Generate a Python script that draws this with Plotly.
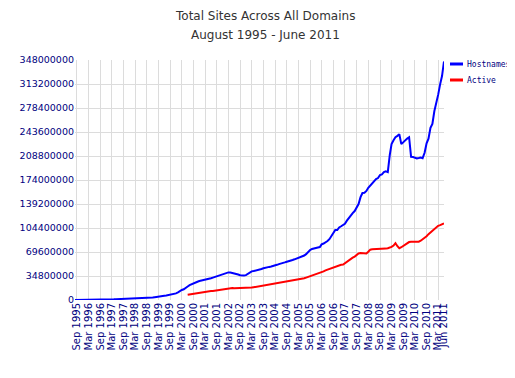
import numpy as np
import pandas as pd
import plotly.graph_objects as go

# Hostnames, monthly, Aug 1995 - Jun 2011 (millions)
hostnames_m = [
    # 1995 Aug-Dec
    0.02, 0.02, 0.03, 0.05, 0.07,
    # 1996
    0.10, 0.12, 0.15, 0.18, 0.22, 0.25, 0.30, 0.34, 0.40, 0.46, 0.53, 0.60,
    # 1997
    0.65, 0.74, 0.88, 1.00, 1.12, 1.20, 1.27, 1.39, 1.46, 1.54, 1.58, 1.68,
    # 1998
    1.83, 2.05, 2.20, 2.28, 2.35, 2.41, 2.59, 2.64, 2.74, 3.16, 3.40, 3.69,
    # 1999
    4.06, 4.30, 4.44, 4.91, 5.41, 6.18, 6.60, 7.08, 7.37, 8.12, 8.78, 9.56,
    # 2000
    11.0, 13.0, 14.5, 15.5, 17.0, 19.5, 21.5, 23.0, 24.5, 25.5, 26.5, 27.5,
    # 2001
    28.0, 29.0, 29.5, 30.5, 31.0, 31.5, 32.5, 33.5, 34.0, 35.0, 36.5, 37.0,
    # 2002
    37.5, 39.0, 40.0, 40.0, 39.5, 38.5, 38.0, 37.0, 36.0, 35.5, 35.5, 36.0,
    # 2003
    38.0, 40.5, 41.5, 42.0, 42.5, 43.0, 44.0, 45.0, 46.0, 47.0, 47.5, 48.0,
    # 2004
    48.5, 49.0, 50.5, 51.0, 52.0, 52.5, 53.5, 54.5, 55.5, 56.0, 57.5, 58.0,
    # 2005
    59.0, 60.0, 61.0, 62.0, 63.0, 64.5, 66.5, 70.0, 72.5, 74.0, 75.0, 75.0,
    # 2006
    76.2, 76.8, 80.7, 81.9, 83.2, 85.5, 88.2, 92.6, 96.9, 101.4, 101.4, 105.2,
    # 2007
    106.9, 108.8, 110.6, 115.0, 119.0, 123.0, 126.0, 129.0, 135.2, 139.1, 149.1, 155.2,
    # 2008
    155.6, 158.2, 162.7, 165.7, 169.8, 172.3, 175.5, 176.8, 181.3, 182.2, 185.5, 186.7,
    # 2009
    185.5, 210.0, 226.0, 231.5, 235.9, 238.0, 240.5, 226.0, 229.0, 232.0, 234.0, 236.0,
    # 2010
    207.5, 207.3, 206.7, 205.4, 206.0, 206.7, 205.7, 213.5, 227.2, 234.0, 249.5, 255.3,
    # 2011 Jan-Jun
    274.0, 284.2, 297.4, 312.7, 324.7, 346.0,
]

# Active sites, monthly, Jun 2000 - Jun 2011 (millions)
active_m = [
    # 2000 Jun-Dec
    7.5, 8.0, 8.5, 9.0, 9.5, 10.0, 10.5,
    # 2001
    11.0, 11.5, 12.0, 12.0, 12.5, 13.0, 13.0, 13.5, 14.0, 14.5, 15.0, 15.5,
    # 2002
    16.0, 16.5, 17.0, 17.0, 17.5, 17.0, 17.0, 17.0, 17.0, 17.0, 17.0, 17.5,
    # 2003
    17.5, 18.0, 18.0, 18.5, 19.0, 19.0, 19.5, 20.0, 20.5, 21.0, 21.5, 22.0,
    # 2004
    22.5, 23.0, 23.0, 23.5, 24.0, 24.5, 25.0, 25.5, 26.0, 26.5, 27.0, 27.5,
    # 2005
    28.0, 28.5, 29.5, 30.0, 30.5, 31.5, 32.5, 33.5, 34.5, 35.5, 36.0, 36.5,
    # 2006
    37.5, 39.0, 40.5, 41.5, 43.0, 44.0, 45.0, 46.5, 48.0, 49.0, 49.5, 50.0,
    # 2007
    51.0, 51.5, 53.5, 55.5, 57.5, 59.5, 61.5, 63.0, 65.5, 67.5, 68.0, 67.5,
    # 2008
    67.0, 67.5, 70.0, 73.0, 73.5, 73.5, 74.0, 74.0, 74.5, 74.0, 74.5, 74.5,
    # 2009
    75.0, 75.5, 77.0, 79.0, 82.5, 78.0, 75.0, 76.5, 78.5, 80.5, 81.5, 84.0,
    # 2010
    84.5, 84.5, 84.5, 84.5, 84.5, 86.0, 88.0, 90.0, 92.5, 95.5, 98.0, 100.0,
    # 2011 Jan-Jun
    103.0, 105.5, 107.5, 108.5, 109.5, 111.0,
]

host_dates = pd.date_range("1995-08-01", periods=len(hostnames_m), freq="MS")
active_dates = pd.date_range("2000-06-01", periods=len(active_m), freq="MS")
hostnames = np.array(hostnames_m) * 1e6
active = np.array(active_m) * 1e6

# x tick labels
tick_dates = []
tick_labels = []
for yr in range(1995, 2012):
    for mo, name in ((3, "Mar"), (9, "Sep")):
        d = pd.Timestamp(yr, mo, 1)
        if pd.Timestamp(1995, 9, 1) <= d <= pd.Timestamp(2011, 3, 1):
            tick_dates.append(d)
            tick_labels.append(f"{name} {yr}")
tick_dates.append(pd.Timestamp(2011, 6, 1))
tick_labels.append("Jun 2011")

y_ticks = [i * 34800000 for i in range(11)]
y_labels = [str(v) for v in y_ticks]

title_lines = ["Total Sites Across All Domains", "August 1995 - June 2011"]

NAVY = "#000080"
OFF = 8  # page body margin
W, H = 515 - OFF, 378 - OFF
L, T = 75 - OFF, 60 - OFF
PW, PH = 369, 240
R, B = W - L - PW, H - T - PH


def px_x(x):  # reference page pixel -> paper coord
    return (x - OFF - L) / PW


def px_y(y):
    return (T + PH - (y - OFF)) / PH


fig = go.Figure()
fig.add_trace(go.Scatter(x=host_dates, y=hostnames, mode="lines", name="Hostnames",
                         line=dict(color="#0000ff", width=2)))
fig.add_trace(go.Scatter(x=active_dates, y=active, mode="lines", name="Active",
                         line=dict(color="#ff0000", width=2)))

fig.update_layout(
    width=W, height=H,
    margin=dict(l=L, r=R, t=T, b=B, autoexpand=False),
    paper_bgcolor="white", plot_bgcolor="white",
    showlegend=False,
    xaxis=dict(type="date", range=["1995-08-01", "2011-06-01"],
               tickvals=tick_dates, ticktext=tick_labels, tickangle=-90,
               showgrid=True, gridcolor="#dcdcdc", gridwidth=1,
               zeroline=False, showline=False, ticks="", automargin=False,
               tickfont=dict(family="DejaVu Sans", size=10, color=NAVY)),
    yaxis=dict(range=[0, 348000000], tickvals=y_ticks, ticktext=y_labels,
               showgrid=True, gridcolor="#dcdcdc", gridwidth=1,
               zeroline=False, showline=False, ticks="", automargin=False,
               tickfont=dict(family="DejaVu Sans", size=9.5, color=NAVY)),
)

# title lines
for text, ypx in zip(title_lines, (16, 35)):
    fig.add_annotation(xref="paper", yref="paper", x=px_x(265), y=px_y(ypx),
                       text=text, showarrow=False, xanchor="center", yanchor="middle",
                       font=dict(family="DejaVu Sans", size=12, color="#333333"))

# legend (manual)
legend_items = [("Hostnames", "#0000ff", 64), ("Active", "#ff0000", 80)]
for name, color, ypx in legend_items:
    fig.add_shape(type="line", xref="paper", yref="paper",
                  x0=px_x(450), x1=px_x(463), y0=px_y(ypx), y1=px_y(ypx),
                  line=dict(color=color, width=3))
    fig.add_annotation(xref="paper", yref="paper", x=px_x(465), y=px_y(ypx),
                       text=name, showarrow=False, xanchor="left", yanchor="middle",
                       font=dict(family="DejaVu Sans Mono", size=8, color=NAVY))

fig.write_html("out.html")
